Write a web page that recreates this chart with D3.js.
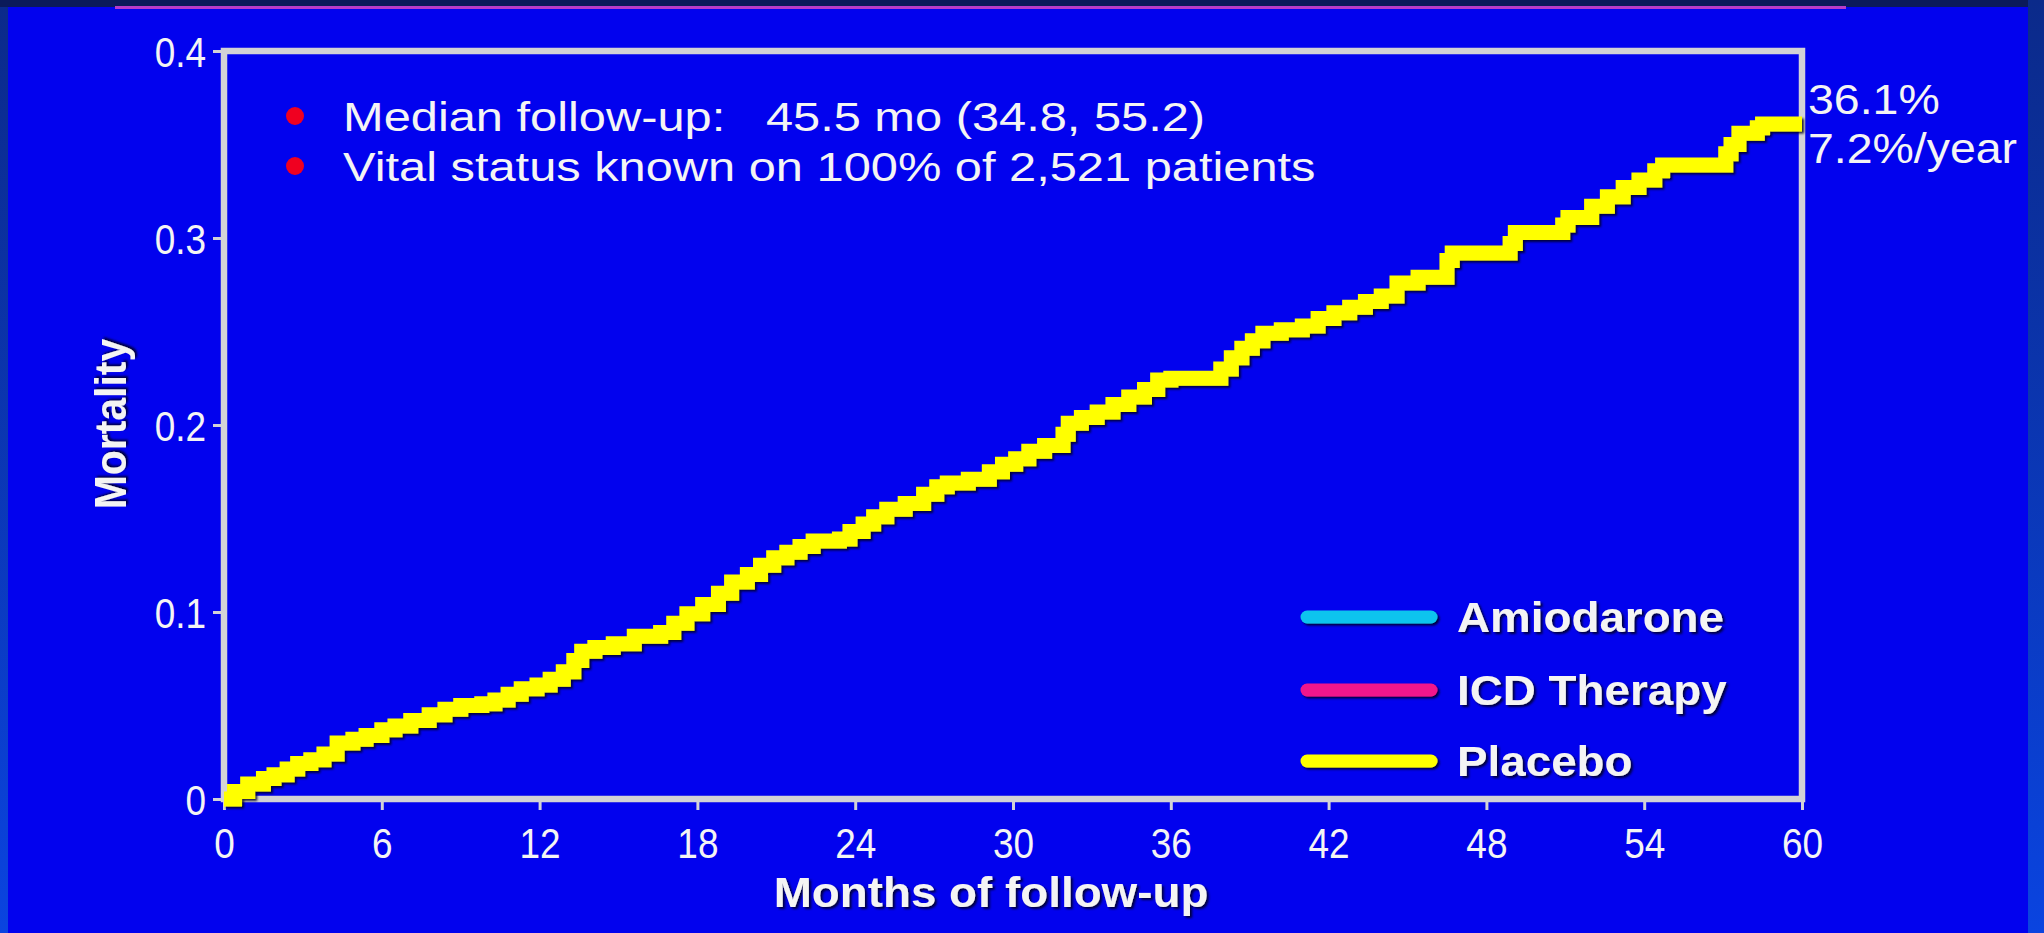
<!DOCTYPE html>
<html>
<head>
<meta charset="utf-8">
<script src="https://cdn.jsdelivr.net/npm/d3@7"></script>
<style>
  body { margin: 0; background: #0b1a5a; overflow: hidden; }
  text { font-family: "Liberation Sans", Arial, sans-serif; fill: #f4f4f4; }
</style>
</head>
<body>
<div id="chart"></div>
<script>
// placebo Kaplan-Meier curve (months, cumulative mortality)
var months = [0, 0.4, 0.9, 1.5, 1.9, 2.4, 2.8, 3.3, 3.8, 4.3, 4.9, 5.4, 6.0, 6.5, 7.1, 7.8,
	8.4, 9.0, 9.8, 10.3, 10.8, 11.3, 11.9, 12.4, 12.9, 13.3, 13.6, 14.1, 14.8, 15.6, 16.6,
	17.1, 17.6, 18.2, 18.8, 19.3, 19.9, 20.4, 20.9, 21.4, 21.9, 22.4, 23.4, 23.8, 24.3, 24.7,
	25.2, 25.9, 26.6, 27.1, 27.5, 28.3, 29.1, 29.6, 30.1, 30.6, 31.2, 31.9, 32.1, 32.6, 33.2,
	33.8, 34.4, 35.0, 35.5, 36.0, 37.9, 38.3, 38.7, 39.1, 39.5, 40.2, 41.0, 41.6, 42.2, 42.8,
	43.4, 44.0, 44.6, 45.4, 46.5, 46.7, 48.9, 49.1, 50.9, 51.1, 52.0, 52.6, 53.2, 53.8, 54.4,
	54.7, 57.1, 57.3, 57.6, 58.3, 58.5, 60];
var mortality = [0, 0.004, 0.008, 0.011, 0.013, 0.016, 0.019, 0.021, 0.024, 0.030, 0.032, 0.034, 0.037, 0.039, 0.042, 0.045,
	0.048, 0.050, 0.051, 0.053, 0.056, 0.059, 0.061, 0.064, 0.068, 0.074, 0.079, 0.081, 0.083, 0.087, 0.089,
	0.094, 0.099, 0.104, 0.110, 0.116, 0.120, 0.125, 0.129, 0.132, 0.135, 0.138, 0.139, 0.143, 0.147, 0.151,
	0.155, 0.158, 0.163, 0.167, 0.169, 0.171, 0.175, 0.179, 0.182, 0.186, 0.189, 0.195, 0.201, 0.204, 0.207,
	0.211, 0.215, 0.219, 0.224, 0.225, 0.230, 0.236, 0.241, 0.245, 0.249, 0.251, 0.253, 0.257, 0.260, 0.263,
	0.266, 0.269, 0.276, 0.279, 0.288, 0.292, 0.297, 0.303, 0.307, 0.311, 0.317, 0.322, 0.327, 0.331, 0.336,
	0.339, 0.345, 0.350, 0.356, 0.359, 0.361, 0.361];

var xTicks = [0, 6, 12, 18, 24, 30, 36, 42, 48, 54, 60];
var yTicks = [0, 0.1, 0.2, 0.3, 0.4];
var yTickLabels = ["0", "0.1", "0.2", "0.3", "0.4"];

var legendNames = ["Amiodarone", "ICD Therapy", "Placebo"];
var legendColors = ["#10c4ee", "#f0148c", "#ffff00"];

var notes = ["Median follow-up:   45.5 mo (34.8, 55.2)", "Vital status known on 100% of 2,521 patients"];
var endLabels = ["36.1%", "7.2%/year"];

var width = 2044, height = 933;
var frameColor = "#d2d2d6";
var slideBlue = "#0202ee";

var svg = d3.select("#chart").append("svg")
	.attr("width", width)
	.attr("height", height);

var defs = svg.append("defs");
function addShadow(id, userSpace) {
	var f = defs.append("filter").attr("id", id);
	if (userSpace) {
		// flat lines have a zero-height bbox, so give them a region in user space
		f.attr("filterUnits", "userSpaceOnUse")
			.attr("x", 0).attr("y", 0).attr("width", width).attr("height", height);
	} else {
		f.attr("x", "-5%").attr("y", "-10%").attr("width", "115%").attr("height", "125%");
	}
	f.append("feDropShadow")
		.attr("dx", 2).attr("dy", 2).attr("stdDeviation", 1.2)
		.attr("flood-color", "#000020").attr("flood-opacity", 0.85);
}
addShadow("shadow", false);
addShadow("shadowFlat", true);

var edgeGrad = defs.append("linearGradient").attr("id", "edge").attr("x1", 0).attr("x2", 0).attr("y1", 0).attr("y2", 1);
edgeGrad.append("stop").attr("offset", 0).attr("stop-color", "#0b2a8a");
edgeGrad.append("stop").attr("offset", 1).attr("stop-color", "#0a44e0");

// slide background
svg.append("rect").attr("width", width).attr("height", height).attr("fill", "#0b1a5a");
svg.append("rect").attr("x", 0).attr("y", 7).attr("width", 2028).attr("height", height - 7).attr("fill", slideBlue);
svg.append("rect").attr("x", 0).attr("y", 7).attr("width", 8).attr("height", height - 7).attr("fill", "url(#edge)");
svg.append("rect").attr("x", 2028).attr("y", 0).attr("width", 16).attr("height", height).attr("fill", "url(#edge)");
svg.append("line")
	.attr("x1", 115).attr("x2", 1846).attr("y1", 7.5).attr("y2", 7.5)
	.attr("stroke", "#b83cc8").attr("stroke-width", 3);

var x = d3.scaleLinear().domain([0, 60]).range([224, 1802]);
var y = d3.scaleLinear().domain([0, 0.4]).range([799, 51]);

// horizontal scale factor of the lettering on the slide
function stretched(sel, k) {
	return sel.attr("transform", function() {
		var t = d3.select(this).attr("data-pos");
		return t + " scale(" + k + ",1)";
	});
}

// axes
var tickK = 0.88;
var xAxis = svg.append("g")
	.attr("transform", "translate(0," + y(0) + ")")
	.call(d3.axisBottom(x).tickValues(xTicks).tickSize(11).tickPadding(0).tickSizeOuter(0));
xAxis.select(".domain").remove();
xAxis.selectAll(".tick line").attr("stroke", frameColor).attr("stroke-width", 3);
xAxis.selectAll(".tick text")
	.attr("fill", "#f0f0f0")
	.attr("y", 59).attr("dy", null)
	.style("font-size", "42px")
	.attr("transform", "scale(" + tickK + ",1)");

var yAxis = svg.append("g")
	.attr("transform", "translate(" + x(0) + ",0)")
	.call(d3.axisLeft(y).tickValues(yTicks).tickFormat(function(d, i) { return yTickLabels[i]; })
		.tickSize(11).tickPadding(0).tickSizeOuter(0));
yAxis.select(".domain").remove();
yAxis.selectAll(".tick line").attr("stroke", frameColor).attr("stroke-width", 3);
yAxis.selectAll(".tick text")
	.attr("fill", "#f0f0f0")
	.attr("x", -18 / tickK).attr("dy", "0.36em")
	.style("font-size", "42px")
	.attr("transform", "scale(" + tickK + ",1)");

// plot frame
svg.append("rect")
	.attr("x", x(0)).attr("y", y(0.4))
	.attr("width", x(60) - x(0)).attr("height", y(0) - y(0.4))
	.attr("fill", "none")
	.attr("stroke", frameColor)
	.attr("stroke-width", 6.5);

// placebo curve
var points = months.map(function(m, i) { return [m, mortality[i]]; });
var line = d3.line()
	.x(function(d) { return x(d[0]); })
	.y(function(d) { return y(d[1]); })
	.curve(d3.curveStepAfter);

svg.append("path")
	.datum(points)
	.attr("d", line)
	.attr("fill", "none")
	.attr("stroke", "#ffff00")
	.attr("stroke-width", 15)
	.attr("stroke-linejoin", "miter")
	.attr("filter", "url(#shadow)");

// axis titles
svg.append("text")
	.attr("data-pos", "translate(" + (x(30) - 22) + ",907)")
	.attr("text-anchor", "middle")
	.style("font-size", "42px").style("font-weight", "bold")
	.attr("filter", "url(#shadow)")
	.text("Months of follow-up")
	.call(stretched, 1.09);

svg.append("text")
	.attr("transform", "translate(126,424) rotate(-90) scale(0.93,1)")
	.attr("text-anchor", "middle")
	.style("font-size", "44px").style("font-weight", "bold")
	.attr("filter", "url(#shadow)")
	.text("Mortality");

// notes with red bullets
var noteY = [131, 181];
svg.selectAll("circle.bullet")
	.data(notes)
	.enter()
	.append("circle")
	.classed("bullet", true)
	.attr("cx", 295)
	.attr("cy", function(d, i) { return noteY[i] - 15; })
	.attr("r", 9)
	.attr("fill", "#f00020");

svg.selectAll("text.note")
	.data(notes)
	.enter()
	.append("text")
	.classed("note", true)
	.attr("data-pos", function(d, i) { return "translate(343," + noteY[i] + ")"; })
	.attr("xml:space", "preserve")
	.style("white-space", "pre")
	.style("font-size", "41px")
	.text(function(d) { return d; })
	.call(stretched, 1.19);

// end-of-curve labels
svg.selectAll("text.endlabel")
	.data(endLabels)
	.enter()
	.append("text")
	.classed("endlabel", true)
	.attr("data-pos", function(d, i) { return "translate(1808," + (114 + i * 49) + ")"; })
	.style("font-size", "43px")
	.text(function(d) { return d; })
	.call(stretched, 1.08);

// legend
var legendY = [617, 690, 761];
var legend = svg.append("g").classed("legend", true);
legend.selectAll("line")
	.data(legendNames)
	.enter()
	.append("line")
	.attr("x1", 1307).attr("x2", 1431)
	.attr("y1", function(d, i) { return legendY[i]; })
	.attr("y2", function(d, i) { return legendY[i]; })
	.attr("stroke", function(d, i) { return legendColors[i]; })
	.attr("stroke-width", 13)
	.attr("stroke-linecap", "round")
	.attr("filter", "url(#shadowFlat)");

legend.selectAll("text")
	.data(legendNames)
	.enter()
	.append("text")
	.attr("data-pos", function(d, i) { return "translate(1457," + (legendY[i] + 15) + ")"; })
	.style("font-size", "42px").style("font-weight", "bold")
	.attr("filter", "url(#shadow)")
	.text(function(d) { return d; })
	.call(stretched, 1.09);
</script>
</body>
</html>
